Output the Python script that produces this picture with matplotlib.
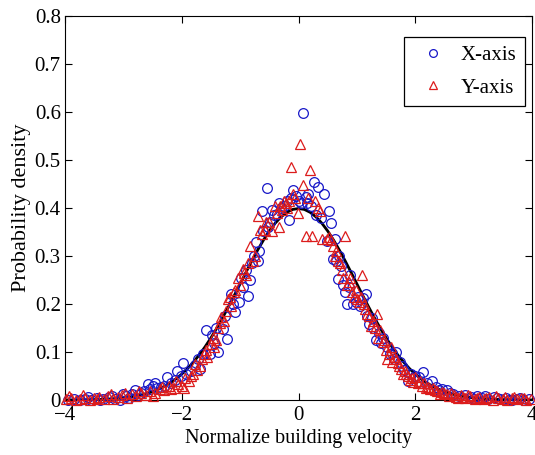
import matplotlib
matplotlib.use('Agg')
import matplotlib.pyplot as plt

# X-axis series (blue circles)
x_axis_v = [-3.95, -3.85, -3.75, -3.65, -3.55, -3.45, -3.35, -3.25, -3.15, -3.05,
            -2.95, -2.85, -2.75, -2.65, -2.58, -2.50, -2.42, -2.35, -2.26, -2.18,
            -2.08, -1.98, -1.92, -1.85, -1.78, -1.68, -1.59, -1.52, -1.45, -1.38,
            -1.30, -1.22, -1.15, -1.09, -1.02, -0.95, -0.87, -0.83, -0.77, -0.70,
            -0.67, -0.63, -0.60, -0.54, -0.48, -0.42, -0.36, -0.30, -0.24, -0.17,
            -0.12, -0.09, -0.04, 0.00, 0.04, 0.08, 0.12, 0.17, 0.22, 0.27,
            0.33, 0.38, 0.43, 0.48, 0.52, 0.56, 0.59, 0.64, 0.68, 0.72,
            0.76, 0.80, 0.83, 0.88, 0.94, 0.98, 1.05, 1.10, 1.15, 1.20,
            1.26, 1.32, 1.38, 1.45, 1.52, 1.60, 1.67, 1.74, 1.80, 1.87,
            1.93, 2.00, 2.07, 2.13, 2.20, 2.28, 2.35, 2.45, 2.55, 2.65,
            2.75, 2.85, 2.95, 3.05, 3.15, 3.25, 3.35, 3.45, 3.55, 3.65,
            3.75, 3.85, 3.95,
            -3.6, -3.4, -3.2, -3.0, -2.9, -2.8, -2.7, -2.55, -2.45, -2.3,
            -2.12, -2.02, -1.72, -1.63, -1.48, -1.42, -1.26, -1.12, -0.98, -0.9,
            -0.8, -0.72, -0.52, -0.45, -0.33, -0.2, 0.14, 0.3, 0.62, 0.70,
            0.86, 1.02, 1.18, 1.28, 1.42, 1.56, 1.64, 1.78, 1.96, 2.1,
            2.4, 2.6, 2.8, 3.0, 3.2, 3.4, 3.6, 3.8]
x_axis_p = [0.000, 0.002, 0.000, 0.003, 0.001, 0.004, 0.002, 0.006, 0.003, 0.000,
            0.008, 0.012, 0.010, 0.018, 0.033, 0.030, 0.024, 0.028, 0.047, 0.036,
            0.061, 0.078, 0.055, 0.060, 0.072, 0.065, 0.145, 0.095, 0.118, 0.101,
            0.148, 0.127, 0.220, 0.183, 0.205, 0.235, 0.217, 0.250, 0.300, 0.290,
            0.310, 0.394, 0.353, 0.442, 0.370, 0.385, 0.388, 0.400, 0.405, 0.376,
            0.420, 0.438, 0.425, 0.415, 0.410, 0.597, 0.422, 0.430, 0.405, 0.455,
            0.443, 0.380, 0.430, 0.332, 0.393, 0.368, 0.294, 0.290, 0.252, 0.280,
            0.240, 0.225, 0.200, 0.260, 0.200, 0.205, 0.195, 0.212, 0.220, 0.158,
            0.170, 0.125, 0.140, 0.130, 0.110, 0.098, 0.100, 0.080, 0.062, 0.039,
            0.055, 0.050, 0.048, 0.058, 0.035, 0.040, 0.028, 0.022, 0.020, 0.012,
            0.008, 0.010, 0.006, 0.009, 0.005, 0.003, 0.006, 0.002, 0.004, 0.001,
            0.003, 0.000, 0.002,
            0.006, 0.000, 0.008, 0.012, 0.004, 0.020, 0.015, 0.022, 0.035, 0.030,
            0.042, 0.050, 0.085, 0.095, 0.135, 0.150, 0.175, 0.200, 0.255, 0.270,
            0.285, 0.330, 0.360, 0.395, 0.410, 0.415, 0.410, 0.385, 0.335, 0.300,
            0.235, 0.215, 0.175, 0.150, 0.118, 0.095, 0.085, 0.070, 0.045, 0.035,
            0.020, 0.015, 0.005, 0.003, 0.008, 0.004, 0.000, 0.005]

# Y-axis series (red triangles)
y_axis_v = [-3.98, -3.90, -3.82, -3.74, -3.66, -3.58, -3.50, -3.42, -3.34, -3.26,
            -3.18, -3.10, -3.02, -2.94, -2.86, -2.78, -2.70, -2.62, -2.54, -2.46,
            -2.38, -2.30, -2.22, -2.14, -2.06, -2.00, -1.94, -1.88, -1.80, -1.74,
            -1.68, -1.62, -1.56, -1.50, -1.44, -1.38, -1.33, -1.27, -1.21, -1.15,
            -1.08, -1.03, -0.95, -0.90, -0.83, -0.78, -0.69, -0.62, -0.55, -0.45,
            -0.40, -0.34, -0.28, -0.22, -0.16, -0.12, -0.06, -0.01, 0.03, 0.07,
            0.12, 0.16, 0.19, 0.23, 0.28, 0.33, 0.36, 0.41, 0.48, 0.56,
            0.62, 0.68, 0.74, 0.80, 0.86, 0.92, 0.98, 1.04, 1.09, 1.14,
            1.20, 1.27, 1.35, 1.40, 1.47, 1.52, 1.58, 1.64, 1.70, 1.76,
            1.82, 1.88, 1.94, 2.00, 2.08, 2.15, 2.22, 2.30, 2.38, 2.46,
            2.54, 2.62, 2.70, 2.78, 2.86, 2.94, 3.02, 3.10, 3.18, 3.26,
            3.34, 3.42, 3.50, 3.58, 3.66, 3.74, 3.82, 3.90, 3.98,
            -3.94, -3.7, -3.46, -3.22, -2.98, -2.74, -2.5, -2.34, -2.18, -2.1,
            -1.97, -1.84, -1.77, -1.65, -1.59, -1.47, -1.41, -1.35, -1.24, -1.18,
            -1.11, -1.0, -0.93, -0.86, -0.74, -0.66, -0.58, -0.5, -0.37, -0.31,
            -0.25, -0.19, -0.09, 0.52, 0.59, 0.65, 0.71, 0.77, 0.83, 0.89,
            0.95, 1.01, 1.07, 1.12, 1.17, 1.24, 1.31, 1.37, 1.44, 1.5,
            1.55, 1.61, 1.67, 1.73, 1.79, 1.85, 1.91, 1.97, 2.04, 2.11,
            2.19, 2.26, 2.34, 2.42, 2.5, 2.58, 2.66, 2.74, 2.82, 2.9,
            3.06, 3.22, 3.38, 3.54, 3.7, 3.86]
y_axis_p = [0.002, 0.004, 0.000, 0.003, 0.005, 0.001, 0.004, 0.007, 0.003, 0.008,
            0.002, 0.006, 0.010, 0.004, 0.012, 0.008, 0.014, 0.010, 0.018, 0.014,
            0.022, 0.020, 0.030, 0.026, 0.033, 0.030, 0.045, 0.040, 0.055, 0.062,
            0.070, 0.096, 0.090, 0.117, 0.110, 0.150, 0.172, 0.165, 0.210, 0.195,
            0.230, 0.255, 0.273, 0.260, 0.320, 0.290, 0.384, 0.345, 0.370, 0.353,
            0.405, 0.360, 0.395, 0.410, 0.415, 0.485, 0.420, 0.390, 0.533, 0.447,
            0.342, 0.420, 0.479, 0.342, 0.415, 0.400, 0.394, 0.335, 0.335, 0.333,
            0.300, 0.290, 0.270, 0.342, 0.245, 0.225, 0.230, 0.205, 0.260, 0.190,
            0.175, 0.165, 0.179, 0.145, 0.125, 0.085, 0.110, 0.090, 0.078, 0.065,
            0.060, 0.050, 0.045, 0.048, 0.040, 0.035, 0.028, 0.025, 0.018, 0.016,
            0.012, 0.014, 0.006, 0.010, 0.004, 0.008, 0.003, 0.007, 0.002, 0.006,
            0.001, 0.005, 0.003, 0.000, 0.004, 0.002, 0.005, 0.001, 0.003,
            0.008, 0.010, 0.002, 0.012, 0.015, 0.018, 0.008, 0.028, 0.022, 0.040,
            0.025, 0.050, 0.075, 0.085, 0.105, 0.130, 0.125, 0.160, 0.185, 0.215,
            0.225, 0.240, 0.265, 0.285, 0.300, 0.355, 0.355, 0.370, 0.390, 0.405,
            0.415, 0.400, 0.430, 0.340, 0.320, 0.310, 0.285, 0.255, 0.240, 0.255,
            0.215, 0.210, 0.215, 0.200, 0.180, 0.155, 0.150, 0.130, 0.120, 0.105,
            0.095, 0.080, 0.085, 0.070, 0.055, 0.055, 0.042, 0.038, 0.035, 0.030,
            0.025, 0.022, 0.020, 0.012, 0.015, 0.008, 0.010, 0.004, 0.006, 0.010,
            0.005, 0.004, 0.008, 0.006, 0.007, 0.004]

# standard normal curve, read at 0.1 steps
curve_v = [-4.0, -3.9, -3.8, -3.7, -3.6, -3.5, -3.4, -3.3, -3.2, -3.1,
           -3.0, -2.9, -2.8, -2.7, -2.6, -2.5, -2.4, -2.3, -2.2, -2.1,
           -2.0, -1.9, -1.8, -1.7, -1.6, -1.5, -1.4, -1.3, -1.2, -1.1,
           -1.0, -0.9, -0.8, -0.7, -0.6, -0.5, -0.4, -0.3, -0.2, -0.1,
           0.0, 0.1, 0.2, 0.3, 0.4, 0.5, 0.6, 0.7, 0.8, 0.9,
           1.0, 1.1, 1.2, 1.3, 1.4, 1.5, 1.6, 1.7, 1.8, 1.9,
           2.0, 2.1, 2.2, 2.3, 2.4, 2.5, 2.6, 2.7, 2.8, 2.9,
           3.0, 3.1, 3.2, 3.3, 3.4, 3.5, 3.6, 3.7, 3.8, 3.9, 4.0]
curve_p = [0.0001, 0.0002, 0.0003, 0.0004, 0.0006, 0.0009, 0.0012, 0.0017, 0.0024, 0.0033,
           0.0044, 0.0060, 0.0079, 0.0104, 0.0136, 0.0175, 0.0224, 0.0283, 0.0355, 0.0440,
           0.0540, 0.0656, 0.0790, 0.0940, 0.1109, 0.1295, 0.1497, 0.1714, 0.1942, 0.2179,
           0.2420, 0.2661, 0.2897, 0.3123, 0.3332, 0.3521, 0.3683, 0.3814, 0.3910, 0.3970,
           0.3989, 0.3970, 0.3910, 0.3814, 0.3683, 0.3521, 0.3332, 0.3123, 0.2897, 0.2661,
           0.2420, 0.2179, 0.1942, 0.1714, 0.1497, 0.1295, 0.1109, 0.0940, 0.0790, 0.0656,
           0.0540, 0.0440, 0.0355, 0.0283, 0.0224, 0.0175, 0.0136, 0.0104, 0.0079, 0.0060,
           0.0044, 0.0033, 0.0024, 0.0017, 0.0012, 0.0009, 0.0006, 0.0004, 0.0003, 0.0002, 0.0001]

x_ticks = [-4, -2, 0, 2, 4]
y_ticks = [0, 0.1, 0.2, 0.3, 0.4, 0.5, 0.6, 0.7, 0.8]
y_tick_labels = ['0', '0.1', '0.2', '0.3', '0.4', '0.5', '0.6', '0.7', '0.8']

plt.rcParams['font.family'] = ['Liberation Serif', 'DejaVu Serif']

fig = plt.figure(figsize=(5.35, 4.55), dpi=100)
ax = fig.add_axes([65 / 535, 55 / 455, 467 / 535, 384 / 455])

ax.plot(x_axis_v, x_axis_p, 'o', mfc='none', mec='#1818c8', ms=7, mew=0.9,
        label='X-axis', clip_on=False, zorder=3)
ax.plot(y_axis_v, y_axis_p, '^', mfc='none', mec='#dc1c1c', ms=7.5, mew=0.9,
        label='Y-axis', clip_on=False, zorder=4)
ax.plot(curve_v, curve_p, '-', color='black', lw=2.0, zorder=2)

ax.set_xlim(-4, 4)
ax.set_ylim(0, 0.8)
ax.set_xticks(x_ticks)
ax.set_yticks(y_ticks)
ax.set_yticklabels(y_tick_labels)
ax.tick_params(direction='in', top=True, right=True, labelsize=15, length=5)
ax.tick_params(axis='x', pad=4)
ax.tick_params(axis='y', pad=3)
ax.set_xlabel('Normalize building velocity', fontsize=14.5, labelpad=3)
ax.set_ylabel('Probability density', fontsize=16, labelpad=3)

leg = ax.legend(loc='upper right', bbox_to_anchor=(0.985, 0.945), borderaxespad=0,
                fontsize=15, frameon=True, fancybox=False, edgecolor='black',
                framealpha=1, labelspacing=0.63, handletextpad=0.34,
                borderpad=0.4, markerscale=0.8)
leg.get_frame().set_linewidth(0.9)

fig.savefig('out.png', dpi=100)
